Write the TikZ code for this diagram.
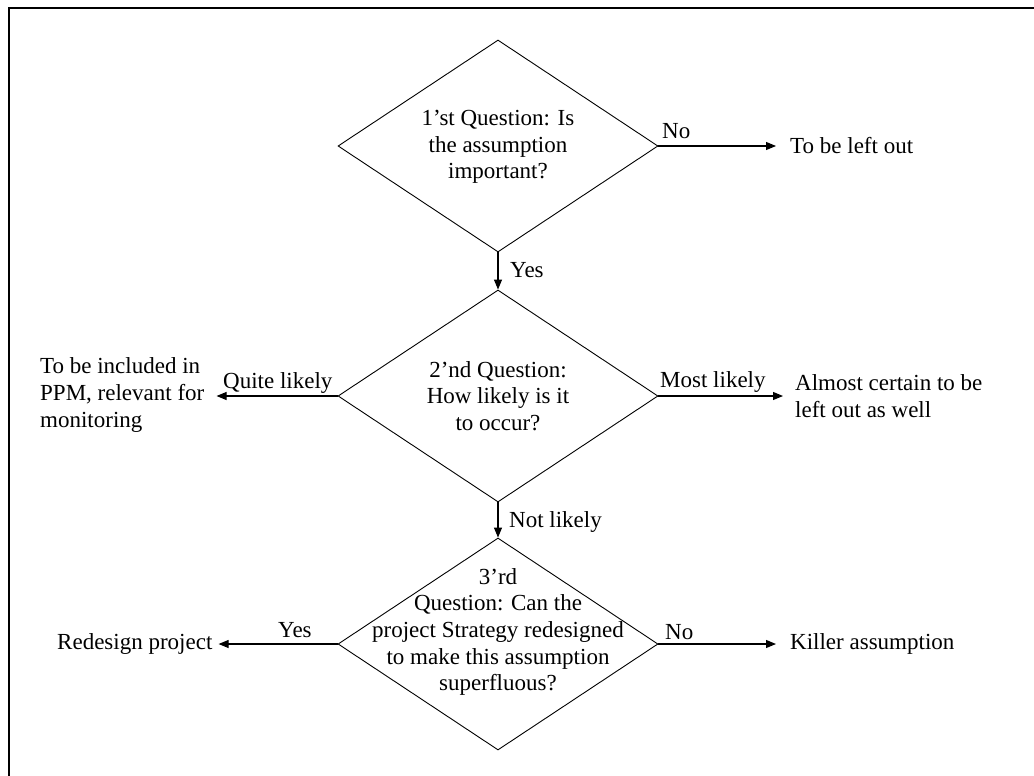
\documentclass[tikz,border=0pt]{standalone}
\usepackage{fontspec}
\setmainfont{Liberation Serif}
\usetikzlibrary{arrows.meta,shapes.geometric}
\begin{document}
\begin{tikzpicture}[x=1pt,y=-1pt,
  dia/.style={draw, shape=diamond, minimum width=320pt, minimum height=212pt, inner sep=0pt, line width=0.9pt},
  txt/.style={font=\fontsize{23}{26.7}\selectfont, align=center, inner sep=0pt},
  ltxt/.style={font=\fontsize{23}{26.7}\selectfont, align=left, inner sep=0pt},
  lab/.style={font=\fontsize{23}{26.7}\selectfont, inner sep=0pt, anchor=base west},
  arr/.style={-{Triangle[length=10pt,width=8pt]}, line width=1.1pt},
  frame/.style={line width=2.2pt, draw=black}]
\useasboundingbox (0,0) rectangle (1034,776);
% frame (top and left edges only)
\coordinate (fbl) at (9,776);
\coordinate (ftl) at (9,8);
\coordinate (ftr) at (1034,8);
\draw[frame] (fbl) -- (ftl) -- (ftr);
% diamonds
\node[dia] (d1) at (498,146) {};
\node[dia] (d2) at (498,396) {};
\node[dia] (d3) at (498,644) {};
% diamond texts
\node[txt] (t1) at (498,147) {1’st Question: Is\\the assumption\\important?};
\node[txt] (t2) at (498,396) {2’nd Question:\\How likely is it\\to occur?};
\node[txt] (t3) at (498,632) {3’rd\\Question: Can the\\project Strategy redesigned\\to make this assumption\\superfluous?};
% outcome texts
\node[ltxt, anchor=west] (leftout) at (790,146) {To be left out};
\node[ltxt, anchor=west] (almost) at (795,396) {Almost certain to be\\left out as well};
\node[ltxt, anchor=west] (killer) at (790,644) {Killer assumption};
\node[ltxt, anchor=west] (incl) at (40,395) {To be included in\\PPM, relevant for\\monitoring};
\node[ltxt, anchor=west] (redesign) at (57,644) {Redesign project};
% connectors
\draw[arr, shorten >=14pt] (d1.east) -- (d1.east -| leftout.west);
\draw[arr] (d1.south) -- (d2.north);
\draw[arr] (d2.south) -- (d3.north);
\draw[arr, shorten >=12pt] (d2.west) -- (d2.west -| incl.east);
\draw[arr, shorten >=12pt] (d2.east) -- (d2.east -| almost.west);
\draw[arr, shorten >=6pt] (d3.west) -- (d3.west -| redesign.east);
\draw[arr, shorten >=14pt] (d3.east) -- (d3.east -| killer.west);
% connector labels
\node[lab] (l1) at (662,139) {No};
\node[lab] (l2) at (510,277) {Yes};
\node[lab] (l3) at (223,388) {Quite likely};
\node[lab] (l4) at (660,387) {Most likely};
\node[lab] (l5) at (509,527) {Not likely};
\node[lab] (l6) at (278,637) {Yes};
\node[lab] (l7) at (665,639) {No};
\end{tikzpicture}
\end{document}
